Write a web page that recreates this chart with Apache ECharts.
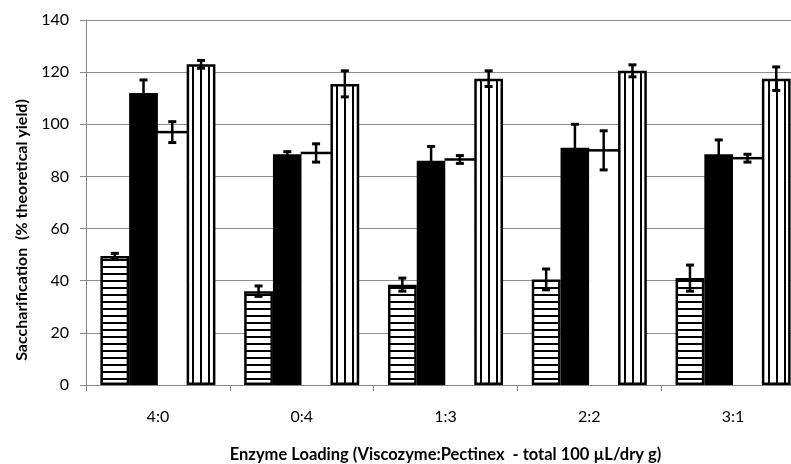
<!DOCTYPE html>
<html><head><meta charset="utf-8">
<script src="https://cdn.jsdelivr.net/npm/echarts@6/dist/echarts.min.js"></script>
<style>html,body{margin:0;padding:0;background:#fff}#c{width:791px;height:464px}</style>
</head><body><div id="c"></div>
<script>
// ---- data ----
const categories = ['4:0', '0:4', '1:3', '2:2', '3:1'];
const hStripeValues = [49.5, 36, 38.5, 40.5, 41];
const hStripeErrors = [1, 2, 2.5, 4, 5];
const blackValues = [112, 88.5, 86, 91, 88.5];
const blackErrors = [5, 1, 5.5, 9, 5.5];
const whiteValues = [97, 89, 86.5, 90, 87];
const whiteErrors = [4, 3.5, 1.5, 7.5, 1.5];
const vStripeValues = [123, 115.5, 117.5, 120.5, 117.5];
const vStripeErrors = [1.5, 5, 3, 2.3, 4.5];
const yTickValues = [0, 20, 40, 60, 80, 100, 120, 140];
const xTitle = 'Enzyme Loading (Viscozyme:Pectinex  - total 100 \u00b5L/dry g)';
const yTitle = 'Saccharification  (% theoretical yield)';

// ---- patterns ----
function makePattern(dir) {
  const c = document.createElement('canvas');
  const g = c.getContext('2d');
  if (dir === 'h') {
    c.width = 8; c.height = 7;
    g.fillStyle = '#fff'; g.fillRect(0, 0, 8, 7);
    g.fillStyle = '#000'; g.fillRect(0, 0, 8, 2);
  } else {
    c.width = 8; c.height = 8;
    g.fillStyle = '#fff'; g.fillRect(0, 0, 8, 8);
    g.fillStyle = '#000'; g.fillRect(0, 0, 2, 8);
  }
  return { image: c, repeat: 'repeat' };
}

const NB = 4;
function barSeries(name, values, color, bw) {
  return {
    name: name, type: 'bar', data: values,
    barGap: '0%', barCategoryGap: '20%',
    itemStyle: { color: color, borderColor: '#000', borderWidth: bw },
    z: 2
  };
}
function errorSeries(idx, values, errs, topLine) {
  return {
    type: 'custom', z: 10,
    data: values.map((v, i) => [i, v - errs[i], v + errs[i], v]),
    encode: { x: 0, y: [1, 2] },
    renderItem: function (params, api) {
      const ci = api.value(0);
      const lo = api.coord([ci, api.value(1)]);
      const hi = api.coord([ci, api.value(2)]);
      const mid = api.coord([ci, api.value(3)]);
      const band = api.size([1, 0])[0];
      const bw = band * 0.8 / NB;
      const x0 = lo[0] - band * 0.4 + bw * idx;
      const x = x0 + bw / 2;
      const capW = 8;
      const children = [];
      if (topLine) {
        children.push({ type: 'line', shape: { x1: x0 - 1, y1: mid[1], x2: x0 + bw + 1, y2: mid[1] }, style: { stroke: '#000', lineWidth: 2.5 } });
      }
      children.push(
        { type: 'line', shape: { x1: x, y1: hi[1], x2: x, y2: lo[1] }, style: { stroke: '#000', lineWidth: 2.5 } },
        { type: 'rect', shape: { x: x - capW / 2, y: hi[1] - 1.5, width: capW, height: 3 }, style: { fill: '#000' } },
        { type: 'rect', shape: { x: x - capW / 2, y: lo[1] - 1.5, width: capW, height: 3 }, style: { fill: '#000' } }
      );
      return { type: 'group', children: children };
    }
  };
}

const chart = echarts.init(document.getElementById('c'), null, { renderer: 'canvas' });
chart.setOption({
  animation: false,
  backgroundColor: '#fff',
  textStyle: { fontFamily: 'Lato' },
  grid: { left: 86, top: 20, bottom: 79, right: -14, containLabel: false, outerBoundsMode: 'none' },
  xAxis: {
    type: 'category', data: categories,
    axisLine: { lineStyle: { color: '#868686', width: 1 } },
    axisTick: { show: true, length: 6, lineStyle: { color: '#868686' } },
    axisLabel: { color: '#000', fontSize: 16, fontFamily: 'Lato', margin: 24 },
    name: xTitle, nameLocation: 'middle', nameGap: 61,
    nameTextStyle: { color: '#000', fontSize: 16.5, fontWeight: 'bold', fontFamily: 'Lato' }
  },
  yAxis: {
    type: 'value', min: 0, max: 140, interval: 20,
    axisLine: { show: true, lineStyle: { color: '#868686', width: 1 } },
    axisTick: { show: true, length: 6, lineStyle: { color: '#868686' } },
    axisLabel: { color: '#000', fontSize: 16, fontFamily: 'Lato', margin: 17,
      formatter: v => yTickValues.includes(v) ? String(v) : '' },
    splitLine: { show: true, lineStyle: { color: '#8e8e8e', width: 1 } }
  },
  graphic: [{
    type: 'text', x: 22, y: 230, rotation: Math.PI / 2,
    style: { text: yTitle, font: 'bold 16px Lato', fill: '#000', align: 'center', verticalAlign: 'middle' }
  }],
  series: [
    barSeries('Horizontal', hStripeValues, makePattern('h'), 2.5),
    barSeries('Black', blackValues, '#000', 0),
    barSeries('White', whiteValues, '#fff', 0),
    barSeries('Vertical', vStripeValues, makePattern('v'), 2.5),
    errorSeries(0, hStripeValues, hStripeErrors, false),
    errorSeries(1, blackValues, blackErrors, false),
    errorSeries(2, whiteValues, whiteErrors, true),
    errorSeries(3, vStripeValues, vStripeErrors, false)
  ]
});
</script></body></html>
